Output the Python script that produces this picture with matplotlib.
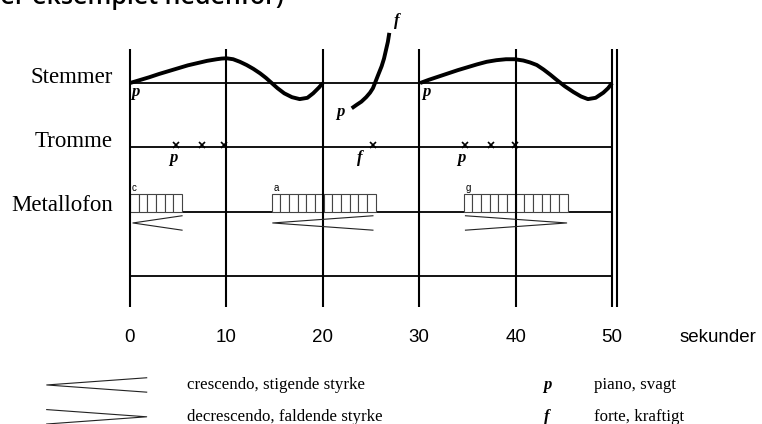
""" graphic score: stemmer, tromme og metallofon over 50 sekunder """
import matplotlib
matplotlib.use("Agg")
import matplotlib.pyplot as plt

# time grid (seconds) and the staff rows
grid_times = [0, 10, 20, 30, 40, 50]
tick_labels = ["0", "10", "20", "30", "40", "50"]
rows = ["Stemmer", "Tromme", "Metallofon", ""]
row_levels = [3, 2, 1, 0]

# voice curves (time, level)
voice1_t = [0, 1, 2, 3, 4, 5, 6, 7, 8, 9, 9.5, 10, 10.7, 11.4, 12.1, 12.8, 13.5,
            14.1, 14.7, 15.3, 16, 16.8, 17.6, 18.4, 19.0, 19.6, 20]
voice1_y = [3.0, 3.045, 3.09, 3.14, 3.185, 3.23, 3.275, 3.31, 3.345, 3.37, 3.38, 3.385,
            3.37, 3.33, 3.28, 3.22, 3.15, 3.08, 3.0, 2.92, 2.84, 2.78, 2.75, 2.77,
            2.84, 2.93, 3.0]
voice2_t = [23.0, 23.5, 24.0, 24.5, 24.9, 25.2, 25.4, 25.7, 26.1, 26.35, 26.55, 26.75, 26.9]
voice2_y = [2.607, 2.66, 2.71, 2.78, 2.85, 2.92, 2.995, 3.11, 3.26, 3.38, 3.51, 3.64, 3.78]
voice3_t = [30.1, 31, 32, 33, 34, 35, 36, 37, 38, 39, 39.9, 40.8, 41.5, 42.2, 42.9,
            43.6, 44.25, 45.1, 46.0, 46.8, 47.5, 48.3, 49.1, 49.6, 50]
voice3_y = [3.0, 3.05, 3.1, 3.15, 3.2, 3.245, 3.29, 3.33, 3.355, 3.37, 3.37, 3.35, 3.32,
            3.28, 3.21, 3.13, 3.05, 2.95, 2.86, 2.79, 2.75, 2.77, 2.85, 2.92, 3.0]

# dynamics marks on the voice row: (time, level, mark)
voice_dyn_t = [0.52, 21.8, 27.7, 30.7]
voice_dyn_y = [2.86, 2.55, 3.96, 2.86]
voice_dyn = ["p", "p", "f", "p"]

# drum hits
drum_t = [4.8, 7.5, 9.8, 25.2, 34.8, 37.4, 39.9]
drum_dyn_t = [4.46, 23.85, 34.4]
drum_dyn = ["p", "f", "p"]

# metallofon groups: start time, number of notes, note label
metal_start = [0, 14.7, 34.6]
metal_count = [6, 12, 12]
metal_note = ["c", "a", "g"]
note_len = 0.9

# hairpins under the metallofon
hair_start = [0.3, 14.8, 34.8]
hair_end = [5.4, 25.2, 45.3]
hair_kind = ["cresc", "cresc", "decresc"]

legend_text = ["crescendo, stigende styrke", "decrescendo, faldende styrke"]
dyn_text = ["piano, svagt", "forte, kraftigt"]

serif = ["Liberation Serif", "DejaVu Serif"]
sans = ["Liberation Sans", "DejaVu Sans"]

fig = plt.figure(figsize=(7.62, 4.24), dpi=100, facecolor="w")
ax = fig.add_axes([0, 0, 1, 1])
ax.set_xlim(-13.485, 65.56)
ax.set_ylim(-2.302, 4.291)
ax.axis("off")

# heading, cut off at the very top as in the source
ax.text(15.9, 4.225, "efter eksemplet nedenfor)", ha="right", va="baseline",
        fontsize=18, family=["Open Sans", "DejaVu Sans"], fontweight="semibold")

# staff lines
ax.hlines(row_levels, grid_times[0], grid_times[-1], color="k", lw=1.3, zorder=2)
ax.vlines(grid_times, -0.482, 3.53, color="k", lw=1.5, zorder=4)
ax.vlines([grid_times[-1] + 0.5], -0.482, 3.53, color="k", lw=1.5, zorder=4)
for name, lvl in zip(rows, row_levels):
    ax.text(-1.8, lvl + 0.09, name, ha="right", va="center", fontsize=16.5, family=serif)

for t, lab in zip(grid_times, tick_labels):
    ax.text(t, -0.964, lab, ha="center", va="center", fontsize=13.5, family=sans)
ax.text(57.05, -0.964, "sekunder", ha="left", va="center", fontsize=13.5, family=sans)

# voices
for tt, yy in [(voice1_t, voice1_y), (voice2_t, voice2_y), (voice3_t, voice3_y)]:
    ax.plot(tt, yy, color="k", lw=2.8, solid_capstyle="butt", solid_joinstyle="round", zorder=5)
for t, y, d in zip(voice_dyn_t, voice_dyn_y, voice_dyn):
    ax.text(t, y, d, ha="center", va="center", fontsize=12, family=serif,
            fontweight="bold", fontstyle="italic")

# drum
ax.plot(drum_t, [2.04] * len(drum_t), "x", color="k", ms=5, mew=1.2, zorder=5)
for t, d in zip(drum_dyn_t, drum_dyn):
    ax.text(t, 1.84, d, ha="center", va="center", fontsize=12, family=serif,
            fontweight="bold", fontstyle="italic")

# metallofon notes
for s, n, note in zip(metal_start, metal_count, metal_note):
    lefts = [s + i * note_len for i in range(n)]
    ax.bar(lefts, 0.28, width=note_len, bottom=1, align="edge",
           facecolor="w", edgecolor="#444444", lw=0.8, zorder=3)
    ax.text(s + 0.2, 1.29, note, ha="left", va="bottom", fontsize=7, family=sans)


def hairpin(x0, x1, y, kind, spread=0.112):
    # crescendo opens to the right, decrescendo to the left
    if kind == "cresc":
        ax.plot([x1, x0, x1], [y + spread, y, y - spread], color="#222222", lw=0.8, zorder=5)
    else:
        ax.plot([x0, x1, x0], [y + spread, y, y - spread], color="#222222", lw=0.8, zorder=5)


for s, e, k in zip(hair_start, hair_end, hair_kind):
    hairpin(s, e, 0.824, k)

# explanation below the score
legend_levels = [-1.695, -2.19]
for lvl, txt, kind in zip(legend_levels, legend_text, ["cresc", "decresc"]):
    hairpin(-8.64, 1.73, lvl, kind)
    ax.text(5.88, lvl, txt, ha="left", va="center", fontsize=12.2, family=serif)
for lvl, txt, d in zip(legend_levels, dyn_text, ["p", "f"]):
    ax.text(43.26, lvl, d, ha="center", va="center", fontsize=12, family=serif,
            fontweight="bold", fontstyle="italic")
    ax.text(48.13, lvl, txt, ha="left", va="center", fontsize=12.2, family=serif)

plt.savefig("out.png", dpi=100)
